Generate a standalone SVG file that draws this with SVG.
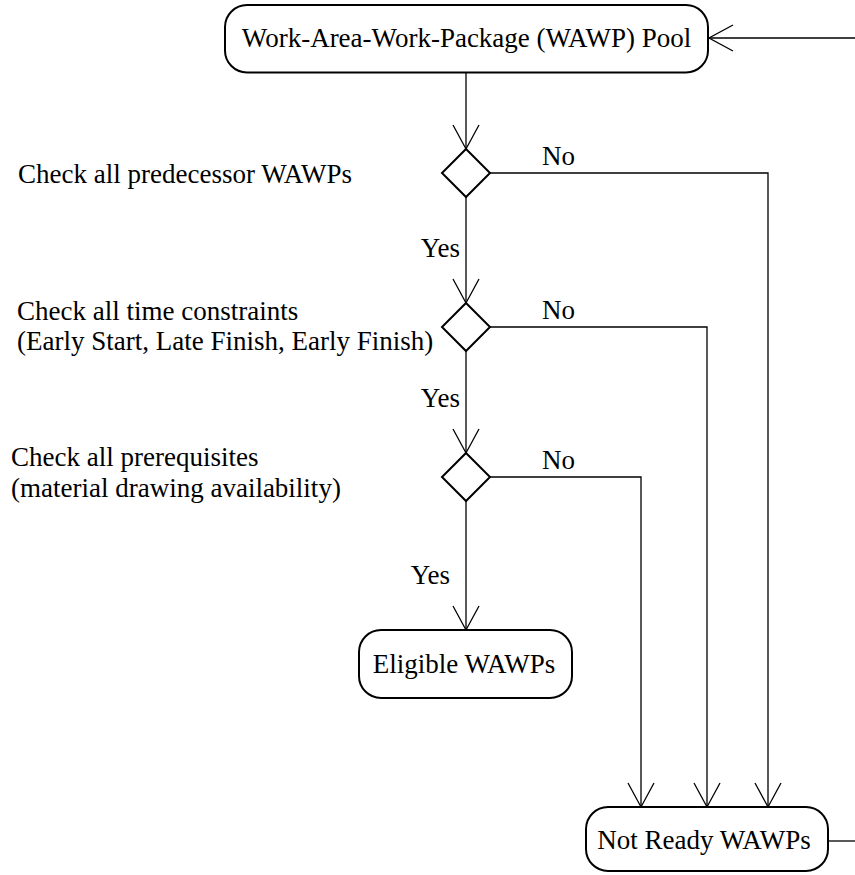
<svg xmlns="http://www.w3.org/2000/svg" width="855" height="875" viewBox="0 0 855 875">
  <style>
    text { font-family: 'Liberation Serif', 'Times New Roman', 'DejaVu Serif', serif; font-size: 27px; fill: #000; }
    .node { fill: #fff; stroke: #000; stroke-width: 2; }
    .edge { fill: none; stroke: #000; stroke-width: 1.3; marker-end: url(#open); }
    .plain { fill: none; stroke: #000; stroke-width: 1.3; }
  </style>
  <defs>
    <marker id="open" markerUnits="userSpaceOnUse" markerWidth="28" markerHeight="30" viewBox="-2 -2 28 30" refX="24" refY="13" orient="auto">
      <path d="M0,0 L24,13 L0,26" fill="none" stroke="#000" stroke-width="1.3"/>
    </marker>
  </defs>

  <!-- connectors and their labels -->
  <g id="connectors">
    <path class="edge" d="M855,38 H709"/>
    <path class="edge" d="M466,73 V149"/>
    <path class="edge" d="M466,197 V303"/>
    <path class="edge" d="M466,351 V453"/>
    <path class="edge" d="M466,501 V630"/>
    <path class="edge" d="M490,173 H768 V807"/>
    <path class="edge" d="M490,327 H707 V807"/>
    <path class="edge" d="M490,477 H641 V807"/>
    <path class="plain" d="M828,841 H855"/>
    <text x="542" y="165">No</text>
    <text x="542" y="319">No</text>
    <text x="542" y="469">No</text>
    <text x="460" y="257" text-anchor="end">Yes</text>
    <text x="460" y="407" text-anchor="end">Yes</text>
    <text x="450" y="584" text-anchor="end">Yes</text>
  </g>

  <g id="pool">
    <rect class="node" x="225" y="5" width="483" height="67.5" rx="22" ry="22"/>
    <text x="466.5" y="47" text-anchor="middle">Work-Area-Work-Package (WAWP) Pool</text>
  </g>

  <g id="check-predecessors">
    <polygon class="node" points="466,149 490,173 466,197 442,173"/>
    <text x="18" y="183">Check all predecessor WAWPs</text>
  </g>

  <g id="check-time">
    <polygon class="node" points="466,303 490,327 466,351 442,327"/>
    <text x="17" y="320">Check all time constraints</text>
    <text x="17" y="350">(Early Start, Late Finish, Early Finish)</text>
  </g>

  <g id="check-prerequisites">
    <polygon class="node" points="466,453 490,477 466,501 442,477"/>
    <text x="11" y="466">Check all prerequisites</text>
    <text x="11" y="497">(material drawing availability)</text>
  </g>

  <g id="eligible">
    <rect class="node" x="359" y="630" width="213" height="68" rx="22" ry="22"/>
    <text x="464" y="673" text-anchor="middle">Eligible WAWPs</text>
  </g>

  <g id="not-ready">
    <rect class="node" x="586" y="807" width="242" height="64" rx="22" ry="22"/>
    <text x="704" y="849" text-anchor="middle">Not Ready WAWPs</text>
  </g>
</svg>
